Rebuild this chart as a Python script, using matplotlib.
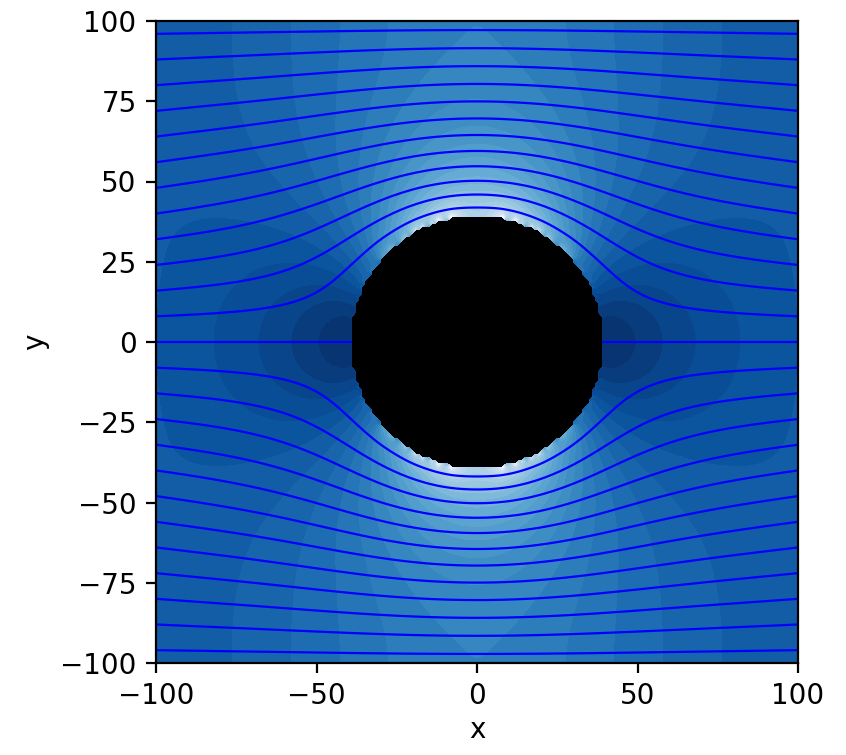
import numpy as np
import matplotlib
matplotlib.use("Agg")
import matplotlib.pyplot as plt

# box, cylinder and free stream
x_min, x_max = -100, 100
y_min, y_max = -100, 100
n_grid = 201
radius = 39.0
u_inf = 1.0

# stream function values of the drawn lines (= their height at the inlet)
stream_levels = [-96, -88, -80, -72, -64, -56, -48, -40, -32, -24, -16, -8, 0,
                 8, 16, 24, 32, 40, 48, 56, 64, 72, 80, 88, 96]
n_fill = 40

x = np.linspace(x_min, x_max, n_grid)
y = np.linspace(y_min, y_max, n_grid)
X, Y = np.meshgrid(x, y)
h = x[1] - x[0]

solid = X**2 + Y**2 < radius**2
edge = np.zeros_like(solid)
edge[0, :] = edge[-1, :] = edge[:, 0] = edge[:, -1] = True

# laplace for psi: psi = U*y on the box, psi = 0 on the cylinder
psi = u_inf * Y.copy()
psi[solid] = 0.0
free = ~(solid | edge)
ii, jj = np.indices(psi.shape)
red = free & ((ii + jj) % 2 == 0)
black = free & ((ii + jj) % 2 == 1)
omega = 2.0 / (1.0 + np.sin(np.pi / n_grid))

for it in range(3000):
    for m in (red, black):
        nb = 0.25 * (np.roll(psi, 1, 0) + np.roll(psi, -1, 0)
                     + np.roll(psi, 1, 1) + np.roll(psi, -1, 1))
        psi[m] += omega * (nb[m] - psi[m])

dpsi_dy, dpsi_dx = np.gradient(psi, h, h)
u = dpsi_dy
v = -dpsi_dx
speed2 = u**2 + v**2
speed2 = np.ma.masked_where(solid, speed2)

fig = plt.figure(figsize=(846 / 200, 755 / 200), dpi=200)
ax = fig.add_axes([156 / 846, 92 / 755, 642 / 846, 642 / 755])
ax.set_facecolor("black")
ax.contourf(X, Y, speed2, n_fill, cmap="Blues_r")
ax.contour(X, Y, np.ma.masked_where(solid, psi), levels=stream_levels,
           colors="b", linewidths=0.8, linestyles="solid")
ax.set_xlim(x_min, x_max)
ax.set_ylim(y_min, y_max)
ax.set_aspect("equal")
ax.set_xticks([-100, -50, 0, 50, 100])
ax.set_yticks([-100, -75, -50, -25, 0, 25, 50, 75, 100])
ax.set_xlabel("x", labelpad=2)
ax.set_ylabel("y")

fig.savefig("out.png", dpi=200)
